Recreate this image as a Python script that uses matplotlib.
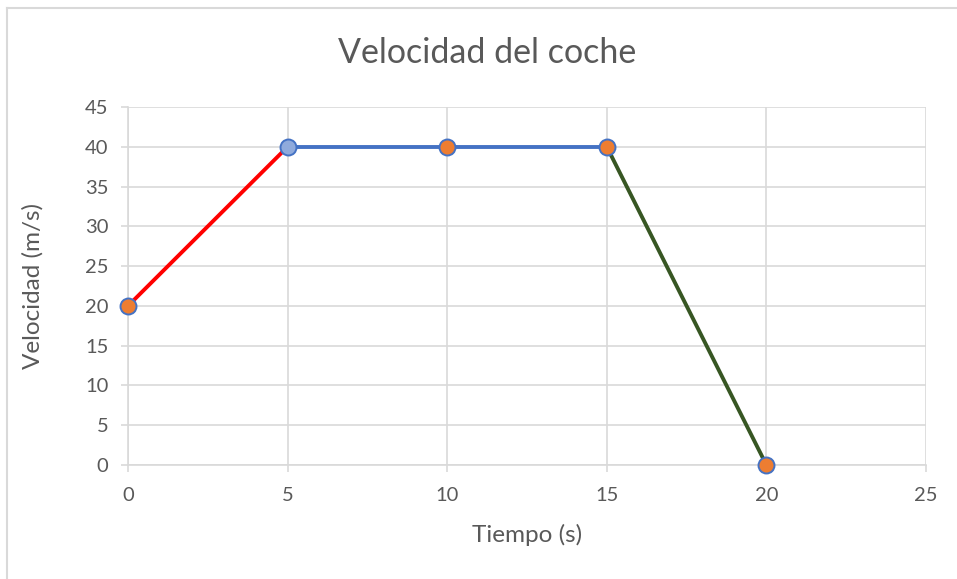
import matplotlib
matplotlib.use("Agg")
import matplotlib.pyplot as plt
from matplotlib.lines import Line2D

tiempo = [0, 5, 10, 15, 20]
velocidad = [20, 40, 40, 40, 0]
segment_colors = ["#ff0000", "#4472c4", "#4472c4", "#375623"]
marker_faces = ["#ed7d31", "#8faadc", "#ed7d31", "#ed7d31", "#ed7d31"]

xticks = [0, 5, 10, 15, 20, 25]
yticks = list(range(0, 50, 5))

plt.rcParams['font.family'] = ['Lato', 'DejaVu Sans']
txt = "#595959"
grid = "#d9d9d9"

fig = plt.figure(figsize=(9.57, 5.79), dpi=100)
ax = fig.add_axes([128/957, 1-465/579, (926-128)/957, (465-107)/579])

for i in range(len(tiempo)-1):
    ax.plot(tiempo[i:i+2], velocidad[i:i+2], color=segment_colors[i], lw=2.8,
            solid_capstyle='butt', zorder=3)
for x, y, fc in zip(tiempo, velocidad, marker_faces):
    ax.plot([x], [y], 'o', ms=11.5, mfc=fc, mec="#4472c4", mew=1.4, zorder=4,
            clip_on=False)

ax.set_xlim(0, 25)
ax.set_ylim(0, 45)
ax.set_xticks(xticks)
ax.set_yticks(yticks)
ax.grid(True, color=grid, lw=1.2, zorder=0)
for s in ['top', 'right']:
    ax.spines[s].set_visible(False)
for s in ['left', 'bottom']:
    ax.spines[s].set_color(grid)
    ax.spines[s].set_linewidth(1.2)
ax.tick_params(colors=grid, labelcolor=txt, labelsize=14.5, length=5, width=1.2)
ax.tick_params(axis='x', pad=11)
ax.tick_params(axis='y', pad=9)

fig.text(527/957, 1-535/579, "Tiempo (s)", fontsize=17.5, color=txt,
         ha='center', va='center')
fig.text(33/957, 1-286/579, "Velocidad (m/s)", fontsize=17.5, color=txt,
         ha='center', va='center', rotation=90)
fig.text(487/957, 1-53/579, "Velocidad del coche", fontsize=24.5, color=txt,
         ha='center', va='center')

# chart border (top and left edges visible)
fig.add_artist(Line2D([7/957, 1.1], [1-8/579, 1-8/579], color=grid, lw=1.5,
                      transform=fig.transFigure))
fig.add_artist(Line2D([7/957, 7/957], [-0.1, 1-8/579], color=grid, lw=1.5,
                      transform=fig.transFigure))

fig.savefig("out.png", dpi=100)
